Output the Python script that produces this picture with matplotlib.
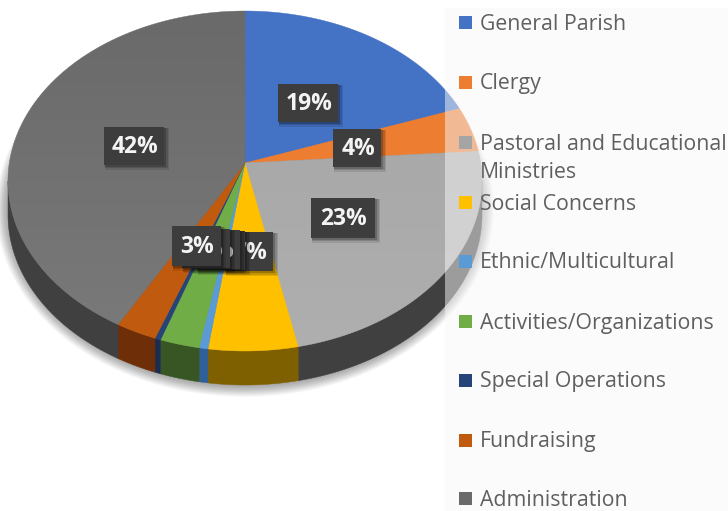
import numpy as np
import matplotlib
matplotlib.use("Agg")
import matplotlib.pyplot as plt
from matplotlib.patches import Polygon, Rectangle, Ellipse

categories = ["General Parish", "Clergy", "Pastoral and Educational\nMinistries", "Social Concerns",
              "Ethnic/Multicultural", "Activities/Organizations", "Special Operations",
              "Fundraising", "Administration"]
values = [18.0, 4.2, 24.2, 6.1, 0.6, 2.7, 0.4, 2.8, 41.0]
pct_labels = ["19%", "4%", "23%", "7%", "1%", "3%", "0%", "3%", "42%"]
top_colors = ["#4472c4", "#ed7d31", "#a5a5a5", "#ffc000", "#5b9bd5", "#70ad47", "#264478", "#c05a0e", "#6a6a6a"]
wall_colors = ["#2c4a80", "#9a5120", "#404040", "#7f6000", "#2f6098", "#375623", "#1a2d50", "#6e2f08", "#404040"]

# layout (pixel space of the figure)
W, H = 728, 511
CX, APEX_Y, ELL_Y, RX, RY, DEPTH = 245, 163, 181, 237, 170, 34
legend_y = [23, 83, 143, 203, 262, 322, 381, 441, 499]
# label centres and box sizes: (x, y, w, h), drawn in this order
label_boxes = {0: (308, 103, 60, 38), 1: (357, 148, 48, 38), 2: (343, 218, 64, 40),
               8: (134, 146, 60, 38), 3: (249, 252, 48, 39), 6: (221, 251, 48, 39),
               5: (216, 250, 48, 39), 4: (206, 249, 48, 39), 7: (196, 246, 49, 40)}
FONT = ["Open Sans", "DejaVu Sans"]
LEGEND_SIZE = 15.3

fig = plt.figure(figsize=(W / 100, H / 100), dpi=100, facecolor="white")
ax = fig.add_axes([0, 0, 1, 1])
ax.set_xlim(0, W)
ax.set_ylim(H, 0)
ax.axis("off")

fracs = np.array(values) / np.sum(values)
edges = np.concatenate([[0], np.cumsum(fracs)]) * 2 * np.pi


def arc(a, b, dy=0.0):
    t = np.linspace(a, b, max(int((b - a) * 60), 2))
    return np.column_stack([CX + RX * np.sin(t), ELL_Y - RY * np.cos(t) + dy])


# soft shadow under the pie
n = 30
for i in range(n):
    grow = 18 * (1 - i / (n - 1))
    ax.add_patch(Ellipse((CX, ELL_Y + DEPTH - 6), 2 * (RX + grow - 6), 2 * (RY + grow),
                         fc="black", ec="none", alpha=0.02, zorder=1))

# side walls
for i, (a, b) in enumerate(zip(edges[:-1], edges[1:])):
    lo, hi = max(a, np.pi / 2), min(b, 3 * np.pi / 2)
    if hi > lo:
        up = arc(lo, hi)
        down = arc(lo, hi, DEPTH)[::-1]
        ax.add_patch(Polygon(np.vstack([up, down]), fc=wall_colors[i], ec=wall_colors[i], lw=0.3, zorder=2))

# top face, with the slight lightening towards the lower edge on the grey wedges
grad = np.linspace(0, 1, 256).reshape(-1, 1)
for i, (a, b) in enumerate(zip(edges[:-1], edges[1:])):
    pts = np.vstack([[CX, APEX_Y], arc(a, b)])
    wedge = Polygon(pts, fc=top_colors[i], ec=top_colors[i], lw=0.3, zorder=3)
    ax.add_patch(wedge)
    if i in (2, 8):
        rgba = np.zeros((256, 1, 4))
        rgba[..., :3] = 1.0
        rgba[..., 3] = grad * 0.11
        im = ax.imshow(rgba, extent=(0, W, ELL_Y + RY, ELL_Y - RY), aspect="auto", zorder=3.1)
        im.set_clip_path(wedge)
ax.set_xlim(0, W)
ax.set_ylim(H, 0)

# data labels
for z, (i, (x, y, w, h)) in enumerate(label_boxes.items()):
    zb = 5 + z * 0.1
    for s, al in ((4, 0.10), (2.5, 0.14), (1, 0.2)):
        ax.add_patch(Rectangle((x - w / 2 + 1, y - h / 2 + 1), w + s, h + s, fc="black", ec="none", alpha=al, zorder=zb))
    ax.add_patch(Rectangle((x - w / 2, y - h / 2), w, h, fc="#3d3d3d", ec="none", zorder=zb + 0.01))
    ax.text(x + 1, y + 1, pct_labels[i], color="#f4f4f4", fontsize=16.5, fontweight="bold", family=FONT,
            ha="center", va="center", zorder=zb + 0.02)

# translucent legend panel
ax.add_patch(Rectangle((445, 8), W - 445, H - 8, fc="#f8f8f8", ec="none", alpha=0.5, zorder=8))

# legend
for cat, col, y in zip(categories, top_colors, legend_y):
    ax.add_patch(Rectangle((459, y - 6.5), 13, 13, fc=col, ec="none", zorder=9))
    lines = cat.split("\n")
    for k, line in enumerate(lines):
        ax.text(480, y + 1 + 29 * k, line, color="#5f5f5f", fontsize=LEGEND_SIZE, family=FONT,
                va="center", ha="left", zorder=10)

fig.savefig("out.png", dpi=100, facecolor="white")
